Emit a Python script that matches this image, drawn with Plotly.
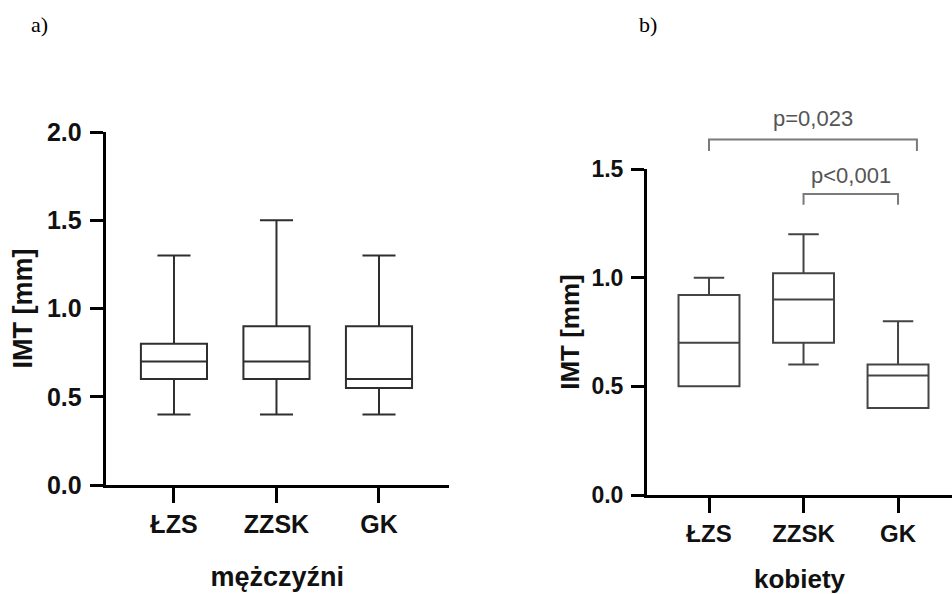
import plotly.graph_objects as go

# IMT distributions per group (mm): quartiles and whisker ends
groups = ["ŁZS", "ZZSK", "GK"]

men_min = [0.40, 0.40, 0.40]
men_q1 = [0.60, 0.60, 0.55]
men_median = [0.70, 0.70, 0.60]
men_q3 = [0.80, 0.90, 0.90]
men_max = [1.30, 1.50, 1.30]

women_min = [0.50, 0.60, 0.40]
women_q1 = [0.50, 0.70, 0.40]
women_median = [0.70, 0.90, 0.55]
women_q3 = [0.92, 1.02, 0.60]
women_max = [1.00, 1.20, 0.80]

men_ticks = [0.0, 0.5, 1.0, 1.5, 2.0]
women_ticks = [0.0, 0.5, 1.0, 1.5]

# significance brackets for the women's panel: (left x, right x, level, drop, label)
brackets = [
    (0.0, 2.2, 1.636, 0.053, "p=0,023"),
    (1.0, 2.0, 1.385, 0.050, "p<0,001"),
]
label_offset = [0.095, 0.085]

SANS = "Liberation Sans, Arial, sans-serif"
SERIF = "Liberation Serif, Times New Roman, serif"

fig = go.Figure()

fig.add_trace(go.Box(
    x=groups, q1=men_q1, median=men_median, q3=men_q3,
    lowerfence=men_min, upperfence=men_max,
    boxpoints=False, width=0.645, whiskerwidth=0.5,
    fillcolor="white", line=dict(color="#2e2e2e", width=2),
    xaxis="x", yaxis="y", showlegend=False, hoverinfo="skip",
))
fig.add_trace(go.Box(
    x=groups, q1=women_q1, median=women_median, q3=women_q3,
    lowerfence=women_min, upperfence=women_max,
    boxpoints=False, width=0.645, whiskerwidth=0.5,
    fillcolor="white", line=dict(color="#444444", width=2),
    xaxis="x2", yaxis="y2", showlegend=False, hoverinfo="skip",
))

W_YMAX = women_ticks[-1]

for (x0, x1, lvl, drop, txt), off in zip(brackets, label_offset):
    path = (f"M {x0} {(lvl - drop) / W_YMAX} L {x0} {lvl / W_YMAX} "
            f"L {x1} {lvl / W_YMAX} L {x1} {(lvl - drop) / W_YMAX}")
    fig.add_shape(type="path", path=path, xref="x2", yref="y2 domain",
                  line=dict(color="#7a7a7a", width=2))
    fig.add_annotation(x=(x0 + x1) / 2, y=(lvl + off) / W_YMAX,
                       xref="x2", yref="y2 domain", text=txt, showarrow=False,
                       xanchor="center", yanchor="middle",
                       font=dict(family=SANS, size=22, color="#555555"))

for label, px in (("a)", 39), ("b)", 648)):
    fig.add_annotation(x=px / 952, y=1 - 25 / 594, xref="paper", yref="paper",
                       text=label, showarrow=False,
                       xanchor="center", yanchor="middle",
                       font=dict(family=SERIF, size=22, color="black"))

axis_common = dict(
    showline=True, linecolor="black", linewidth=3,
    ticks="outside", tickcolor="black", tickwidth=3,
    showgrid=False, zeroline=False, fixedrange=True, automargin=False,
)

fig.update_layout(
    width=952, height=594,
    margin=dict(l=0, r=0, t=0, b=0, autoexpand=False),
    paper_bgcolor="white", plot_bgcolor="white",
    showlegend=False,
    xaxis=dict(
        **axis_common, domain=[105.7 / 952, 449 / 952],
        type="category", range=[-0.666, 2.683], ticklen=15,
        tickfont=dict(family=SANS, size=25, color="#111111", weight="bold"),
        title=dict(text="mężczyźni", standoff=31,
                   font=dict(family=SANS, size=27, color="#111111", weight="bold")),
    ),
    yaxis=dict(
        **axis_common, domain=[1 - 485 / 594, 1 - 132 / 594],
        range=[0, men_ticks[-1]], tickvals=men_ticks, tickformat=".1f",
        ticklen=13, ticklabelstandoff=3,
        tickfont=dict(family=SANS, size=25, color="#111111", weight="bold"),
        title=dict(text="IMT [mm]", standoff=7,
                   font=dict(family=SANS, size=27, color="#111111", weight="bold")),
    ),
    xaxis2=dict(
        **axis_common, domain=[647 / 952, 1.0], anchor="y2",
        type="category", range=[-0.656, 2.571], ticklen=15,
        tickfont=dict(family=SANS, size=24, color="#111111", weight="bold"),
        title=dict(text="kobiety", standoff=26,
                   font=dict(family=SANS, size=26, color="#111111", weight="bold")),
    ),
    yaxis2=dict(
        **axis_common, domain=[1 - 495 / 594, 1 - 169 / 594], anchor="x2",
        range=[0, W_YMAX], tickvals=women_ticks, tickformat=".1f",
        ticklen=13, ticklabelstandoff=3,
        tickfont=dict(family=SANS, size=23, color="#111111", weight="bold"),
        title=dict(text="IMT [mm]", standoff=5,
                   font=dict(family=SANS, size=26, color="#111111", weight="bold")),
    ),
)

fig.write_html("out.html")
